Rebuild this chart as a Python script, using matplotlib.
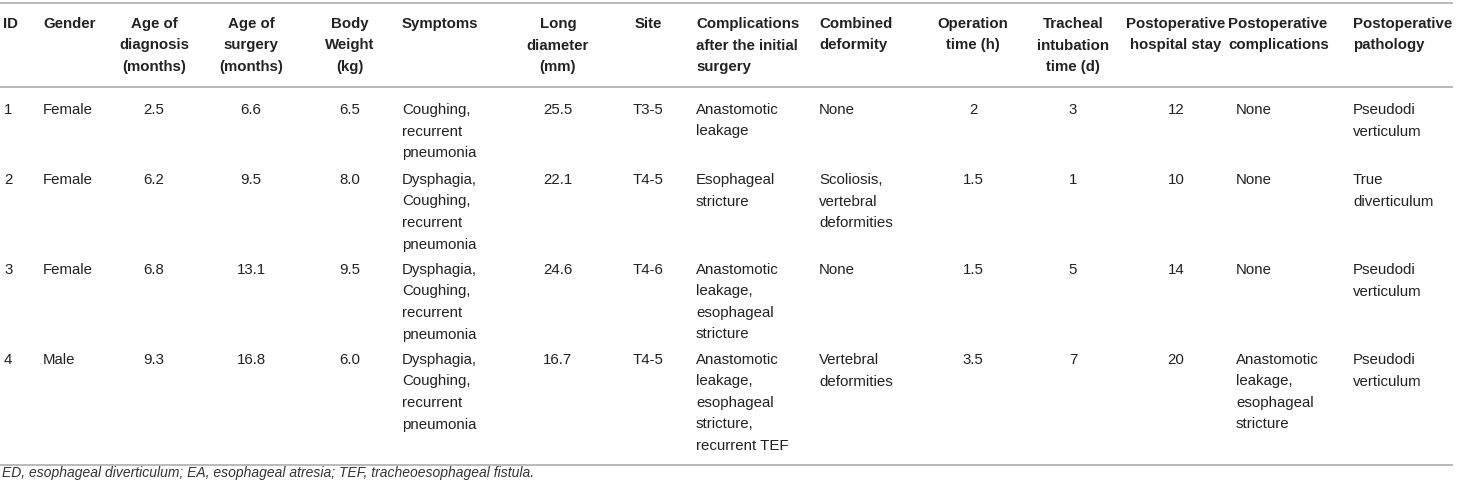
import matplotlib
matplotlib.use("Agg")
import matplotlib.pyplot as plt

plt.rcParams['font.family'] = ['Liberation Sans', 'DejaVu Sans']

headers = [
    "ID", "Gender", "Age of\ndiagnosis\n(months)", "Age of\nsurgery\n(months)",
    "Body\nWeight\n(kg)", "Symptoms", "Long\ndiameter\n(mm)", "Site",
    "Complications\nafter the initial\nsurgery", "Combined\ndeformity",
    "Operation\ntime (h)", "Tracheal\nintubation\ntime (d)",
    "Postoperative\nhospital stay", "Postoperative\ncomplications",
    "Postoperative\npathology",
]

ids = ["1", "2", "3", "4"]
gender = ["Female", "Female", "Female", "Male"]
age_diagnosis = ["2.5", "6.2", "6.8", "9.3"]
age_surgery = ["6.6", "9.5", "13.1", "16.8"]
body_weight = ["6.5", "8.0", "9.5", "6.0"]
symptoms = [
    "Coughing,\nrecurrent\npneumonia",
    "Dysphagia,\nCoughing,\nrecurrent\npneumonia",
    "Dysphagia,\nCoughing,\nrecurrent\npneumonia",
    "Dysphagia,\nCoughing,\nrecurrent\npneumonia",
]
long_diameter = ["25.5", "22.1", "24.6", "16.7"]
site = ["T3-5", "T4-5", "T4-6", "T4-5"]
initial_complications = [
    "Anastomotic\nleakage",
    "Esophageal\nstricture",
    "Anastomotic\nleakage,\nesophageal\nstricture",
    "Anastomotic\nleakage,\nesophageal\nstricture,\nrecurrent TEF",
]
deformity = ["None", "Scoliosis,\nvertebral\ndeformities", "None",
             "Vertebral\ndeformities"]
operation_time = ["2", "1.5", "1.5", "3.5"]
intubation_time = ["3", "1", "5", "7"]
hospital_stay = ["12", "10", "14", "20"]
post_complications = ["None", "None", "None",
                      "Anastomotic\nleakage,\nesophageal\nstricture"]
pathology = ["Pseudodi\nverticulum", "True\ndiverticulum",
             "Pseudodi\nverticulum", "Pseudodi\nverticulum"]

footnote = ("ED, esophageal diverticulum; EA, esophageal atresia; "
            "TEF, tracheoesophageal fistula.")

columns = [ids, gender, age_diagnosis, age_surgery, body_weight, symptoms,
           long_diameter, site, initial_complications, deformity,
           operation_time, intubation_time, hospital_stay,
           post_complications, pathology]

# layout in pixels: (header x, body x, alignment)
col_x = [(3, 4, 'left'), (43, 43, 'left'), (154, 154, 'center'),
         (251, 251, 'center'), (350, 350, 'center'), (402, 402, 'left'),
         (558, 558, 'center'), (648, 648, 'center'), (696, 696, 'left'),
         (819, 819, 'left'), (973, 973, 'center'), (1073, 1073, 'center'),
         (1176, 1176, 'center'), (1228, 1236, 'left'), (1353, 1353, 'left')]

row_base = [114, 184, 274, 364]
header_base = 28
line_h = 21.5
fs = 10.8
txt_color = '#222222'
rule_color = '#b4b4b4'

fig = plt.figure(figsize=(14.58, 4.92), dpi=100)
ax = fig.add_axes([0, 0, 1, 1])
ax.set_xlim(0, 1458)
ax.set_ylim(492, 0)
ax.axis('off')


def put(x, y0, s, ha, **kw):
    for k, line in enumerate(s.split('\n')):
        ax.text(x, y0 + k * line_h, line, ha=ha, va='baseline',
                fontsize=fs, color=txt_color, **kw)


for (hx, bx, ha), head, values in zip(col_x, headers, columns):
    put(hx, header_base, head, ha, fontweight='bold')
    for yb, v in zip(row_base, values):
        put(bx, yb, v, ha)

for y in (3, 87, 465):
    ax.plot([0, 1453], [y, y], color=rule_color, lw=1.3,
            solid_capstyle='butt')

ax.text(2, 477, footnote, ha='left', va='baseline', fontsize=10,
        style='italic', color='#333333')

fig.savefig("out.png", dpi=100)
